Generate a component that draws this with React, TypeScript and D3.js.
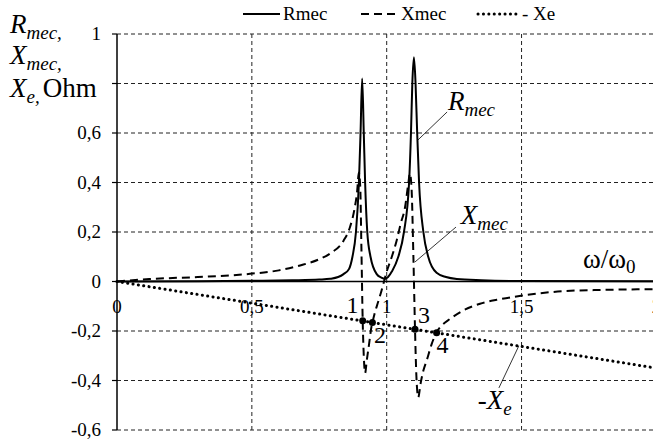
import React from "react";
import * as d3 from "d3";

// curves: [omega/omega0, value]
const rmecPoints: [number, number][] = [
  [0, 0], [0.3, 0.001], [0.5, 0.003], [0.65, 0.005], [0.75, 0.008], [0.79, 0.011],
  [0.82, 0.018], [0.84, 0.03], [0.86, 0.05], [0.873, 0.1], [0.886, 0.2], [0.897, 0.4],
  [0.903, 0.6], [0.909, 0.82], [0.915, 0.6], [0.92, 0.4], [0.928, 0.2], [0.94, 0.1],
  [0.963, 0.03], [0.98, 0.016], [0.994, 0.011], [1.005, 0.018], [1.019, 0.04],
  [1.043, 0.1], [1.064, 0.2], [1.083, 0.4], [1.09, 0.6], [1.095, 0.8], [1.101, 0.906],
  [1.107, 0.8], [1.113, 0.6], [1.12, 0.4], [1.136, 0.2], [1.154, 0.1], [1.185, 0.035],
  [1.22, 0.018], [1.26, 0.01], [1.35, 0.005], [1.5, 0.002], [2.0, 0.001],
];

const xmecPoints: [number, number][] = [
  [0, 0], [0.12, 0.01], [0.3, 0.018], [0.493, 0.031], [0.6, 0.045], [0.679, 0.065],
  [0.75, 0.09], [0.79, 0.113], [0.84, 0.165], [0.864, 0.22], [0.88, 0.29], [0.89, 0.36],
  [0.897, 0.44], [0.902, 0.38], [0.906, 0.15], [0.911, -0.159], [0.915, -0.3],
  [0.92, -0.37], [0.926, -0.32], [0.935, -0.25], [0.944, -0.18], [0.947, -0.166],
  [0.955, -0.13], [0.969, -0.08], [0.981, -0.036], [0.991, 0.004], [1.0, 0.04],
  [1.019, 0.1], [1.037, 0.166], [1.052, 0.234], [1.068, 0.3], [1.08, 0.395],
  [1.086, 0.436], [1.092, 0.38], [1.099, 0.1], [1.105, -0.193], [1.11, -0.38],
  [1.117, -0.468], [1.126, -0.41], [1.136, -0.36], [1.148, -0.32], [1.167, -0.252],
  [1.185, -0.205], [1.198, -0.185], [1.235, -0.151], [1.284, -0.117], [1.346, -0.09],
  [1.408, -0.074], [1.503, -0.057], [1.655, -0.039], [1.8, -0.034], [2.0, -0.031],
];

const xePoints: [number, number][] = [[0, 0], [2.0, -0.35]];

// crossing points 1..4
const markOmega = [0.911, 0.947, 1.105, 1.185];
const markValue = [-0.159, -0.166, -0.193, -0.207];
const markNames = ["1", "2", "3", "4"];
const markLabelPos: [number, number][] = [[0.873, -0.127], [0.975, -0.248], [1.138, -0.168], [1.207, -0.289]];

const yTicks = [-0.6, -0.4, -0.2, 0, 0.2, 0.4, 0.6, 0.8, 1];
const yTickLabels = ["-0,6", "-0,4", "-0,2", "0", "0,2", "0,4", "0,6", "", "1"];
const xTicks = [0, 0.5, 1, 1.5, 2];
const xTickLabels = ["0", "0,5", "1", "1,5", "2"];

const font = "'Liberation Serif', 'Times New Roman', serif";

export default function App() {
  const W = 653;
  const H = 444;
  const x = d3.scaleLinear().domain([0, 2]).range([117, 656.4]);
  const y = d3.scaleLinear().domain([-0.6, 1]).range([430, 34]);

  const line = d3
    .line<[number, number]>()
    .x((d) => x(d[0]))
    .y((d) => y(d[1]))
    .curve(d3.curveMonotoneX);
  const straight = d3.line<[number, number]>().x((d) => x(d[0])).y((d) => y(d[1]));

  const grid = "4,3";

  return (
    <svg
      width={W}
      height={H}
      style={{ position: "absolute", left: 0, top: 0, background: "#fff" }}
      fontFamily={font}
    >
      {/* grid */}
      {yTicks.filter((t) => t !== 0).map((t) => (
        <line key={"gy" + t} x1={x(0)} x2={W} y1={y(t)} y2={y(t)} stroke="#222" strokeWidth={1} strokeDasharray={grid} />
      ))}
      {xTicks.filter((t) => t !== 0).map((t) => (
        <line key={"gx" + t} x1={x(t)} x2={x(t)} y1={y(1)} y2={y(-0.6)} stroke="#222" strokeWidth={1} strokeDasharray={grid} />
      ))}

      {/* axes */}
      <line x1={x(0)} x2={x(0)} y1={y(1)} y2={y(-0.6)} stroke="#000" strokeWidth={1.5} />
      <line x1={x(0)} x2={W} y1={y(0)} y2={y(0)} stroke="#000" strokeWidth={1.5} />
      {yTicks.map((t, i) => (
        <g key={"ty" + t}>
          <line x1={x(0) - 5} x2={x(0)} y1={y(t)} y2={y(t)} stroke="#000" strokeWidth={1.2} />
          <text x={x(0) - 16} y={y(t) + 6} fontSize={19} textAnchor="end">{yTickLabels[i]}</text>
        </g>
      ))}
      {xTicks.map((t, i) => (
        <text key={"tx" + t} x={x(t)} y={y(0) + 31} fontSize={19} textAnchor="middle">{xTickLabels[i]}</text>
      ))}

      {/* series */}
      <path d={straight(xePoints) || ""} fill="none" stroke="#000" strokeWidth={3} strokeDasharray="0.1,5.3" strokeLinecap="round" />
      <path d={line(xmecPoints) || ""} fill="none" stroke="#000" strokeWidth={2} strokeDasharray="8,5" />
      <path d={line(rmecPoints) || ""} fill="none" stroke="#000" strokeWidth={2} />

      {/* crossing marks */}
      {markOmega.map((w, i) => (
        <g key={"m" + i}>
          <circle cx={x(w)} cy={y(markValue[i])} r={3.5} fill="#000" />
          <text x={x(markLabelPos[i][0])} y={y(markLabelPos[i][1])} fontSize={24} textAnchor="middle">{markNames[i]}</text>
        </g>
      ))}

      {/* annotations */}
      <line x1={x(1.224)} y1={y(0.685)} x2={x(1.116)} y2={y(0.572)} stroke="#000" strokeWidth={0.8} />
      <text x={x(1.227)} y={y(0.693)} fontSize={27} fontStyle="italic">
        R<tspan fontSize={19} dy={6}>mec</tspan>
      </text>
      <line x1={x(1.257)} y1={y(0.22)} x2={x(1.105)} y2={y(0.079)} stroke="#000" strokeWidth={0.8} />
      <text x={x(1.275)} y={y(0.232)} fontSize={27} fontStyle="italic">
        X<tspan fontSize={19} dy={6}>mec</tspan>
      </text>
      <line x1={x(1.416)} y1={y(-0.43)} x2={x(1.49)} y2={y(-0.26)} stroke="#000" strokeWidth={0.8} />
      <text x={x(1.338)} y={y(-0.515)} fontSize={27}>
        -<tspan fontStyle="italic">X</tspan><tspan fontSize={19} fontStyle="italic" dy={6}>e</tspan>
      </text>
      <text x={x(1.728)} y={y(0.055)} fontSize={27}>
        ω/ω<tspan fontSize={19} dy={5}>0</tspan>
      </text>

      {/* y title */}
      <text x={10} y={33} fontSize={27} fontStyle="italic">
        R<tspan fontSize={19} dy={6}>mec,</tspan>
      </text>
      <text x={10} y={64} fontSize={27} fontStyle="italic">
        X<tspan fontSize={19} dy={6}>mec,</tspan>
      </text>
      <text x={10} y={97} fontSize={27} fontStyle="italic">
        X<tspan fontSize={19} dy={6}>e,</tspan>
        <tspan fontStyle="normal" dy={-6} dx={3}>Ohm</tspan>
      </text>

      {/* legend */}
      <line x1={243} x2={280} y1={14} y2={14} stroke="#000" strokeWidth={2} />
      <text x={283} y={20} fontSize={19}>Rmec</text>
      <line x1={361} x2={400} y1={14} y2={14} stroke="#000" strokeWidth={2} strokeDasharray="8,5" />
      <text x={401} y={20} fontSize={19}>Xmec</text>
      <line x1={478} x2={518} y1={14} y2={14} stroke="#000" strokeWidth={3} strokeDasharray="0.1,5.3" strokeLinecap="round" />
      <text x={522} y={20} fontSize={19}>- Xe</text>
    </svg>
  );
}
